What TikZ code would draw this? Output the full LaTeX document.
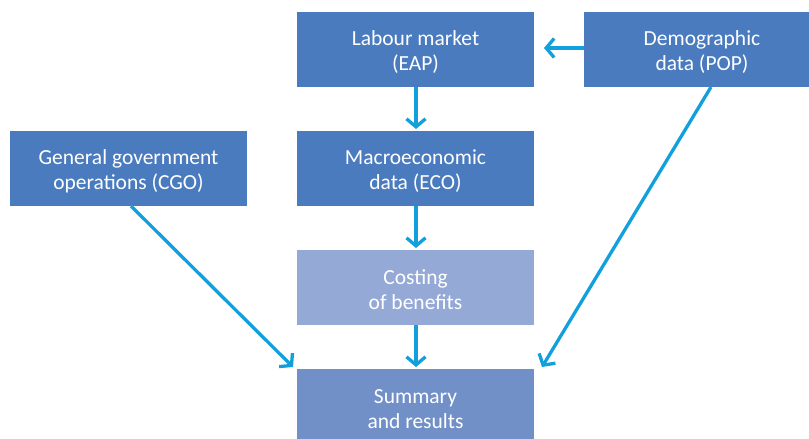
\documentclass[tikz,border=0pt]{standalone}
\usepackage{fontspec}
\setmainfont{Carlito}
\usetikzlibrary{arrows.meta}
\definecolor{boxdark}{HTML}{4A7BBE}
\definecolor{boxlight}{HTML}{95A9D6}
\definecolor{boxmid}{HTML}{7290C8}
\definecolor{arrowc}{HTML}{12A0DC}
\tikzset{
  box/.style={draw=none, text=white, align=center, font=\fontsize{21.5}{25}\selectfont, inner sep=0pt},
  conn/.style={draw=arrowc, line width=3.3pt, -{Straight Barb[length=8pt,width=19pt,line width=3.3pt]}},
}
\begin{document}
\begin{tikzpicture}[x=1pt,y=-1pt]
\useasboundingbox (0,0) rectangle (809,439);
\fill[boxdark] (297,12) rectangle (534,87);
\node[box] (eap) at (415.5,52) {Labour market\\(EAP)};
\fill[boxdark] (584,12) rectangle (809,87);
\node[box] (pop) at (702,52) {Demographic\\data (POP)};
\fill[boxdark] (10,131) rectangle (247,206);
\node[box] (cgo) at (128.5,171) {General government\\operations (CGO)};
\fill[boxdark] (297,131) rectangle (534,206);
\node[box] (eco) at (415.5,171) {Macroeconomic\\data (ECO)};
\fill[boxlight] (297,250) rectangle (534,325);
\node[box] (cost) at (415.5,290) {Costing\\of benefits};
\fill[boxmid] (297,369) rectangle (534,439);
\node[box] (sum) at (415.5,409) {Summary\\and results};
\coordinate (eapB) at (416,87);
\coordinate (ecoT) at (416,129);
\coordinate (ecoB) at (416,206);
\coordinate (costT) at (416,248);
\coordinate (costB) at (416,325);
\coordinate (sumT) at (416,367);
\coordinate (popL) at (584,48);
\coordinate (eapR) at (544,48);
\coordinate (popB) at (711,87);
\coordinate (sumR) at (542,367);
\coordinate (cgoB) at (131,206);
\coordinate (sumL) at (293,367);
\draw[conn] (eapB) -- (ecoT);
\draw[conn] (ecoB) -- (costT);
\draw[conn] (costB) -- (sumT);
\draw[conn] (popL) -- (eapR);
\draw[conn] (popB) -- (sumR);
\draw[conn] (cgoB) -- (sumL);
\end{tikzpicture}
\end{document}
